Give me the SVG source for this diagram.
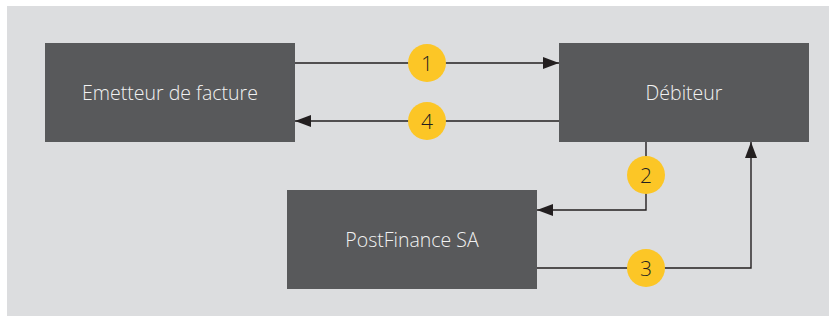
<svg xmlns="http://www.w3.org/2000/svg" width="836" height="321" viewBox="0 0 836 321">
<defs>
<style>
.node rect{fill:#58595b}
.node text{fill:#f2f2f2;font-family:"Open Sans","Noto Sans",sans-serif;font-size:19.5px;font-weight:300;text-anchor:middle}
.conn path{fill:none;stroke:#231f20;stroke-width:1.4}
.badge circle{fill:#fcc626}
.badge text{fill:#231f20;font-family:"Open Sans","Noto Sans",sans-serif;font-size:21px;font-weight:300;text-anchor:middle}
</style>
<marker id="ah" viewBox="0 0 16 12" refX="16" refY="6" markerWidth="16" markerHeight="12" markerUnits="userSpaceOnUse" orient="auto">
<path d="M0,0 L16,6 L0,12 Z" fill="#231f20"/>
</marker>
</defs>
<rect x="0" y="0" width="836" height="321" fill="#ffffff"/>
<rect x="7" y="6" width="822" height="310" fill="#dcdddf"/>
<g id="emetteur" class="node"><rect x="45" y="43" width="250" height="99"/><text x="170" y="100">Emetteur de facture</text></g>
<g id="debiteur" class="node"><rect x="559" y="43" width="250" height="99"/><text x="684" y="100">Débiteur</text></g>
<g id="postfinance" class="node"><rect x="287" y="190" width="250" height="99"/><text x="412" y="247">PostFinance SA</text></g>
<g id="connectors" class="conn">
<path d="M295,63 H559" marker-end="url(#ah)"/>
<path d="M559,121 H295" marker-end="url(#ah)"/>
<path d="M646,142 V210 H537" marker-end="url(#ah)"/>
<path d="M537,268 H751 V142" marker-end="url(#ah)"/>
</g>
<g id="badges" class="badge">
<g id="b1"><circle cx="427" cy="63" r="19"/><text x="427" y="70.5">1</text></g>
<g id="b4"><circle cx="427" cy="121" r="19"/><text x="427" y="128.5">4</text></g>
<g id="b2"><circle cx="646" cy="175" r="19"/><text x="646" y="182.5">2</text></g>
<g id="b3"><circle cx="646" cy="268" r="19"/><text x="646" y="275.5">3</text></g>
</g>
</svg>
